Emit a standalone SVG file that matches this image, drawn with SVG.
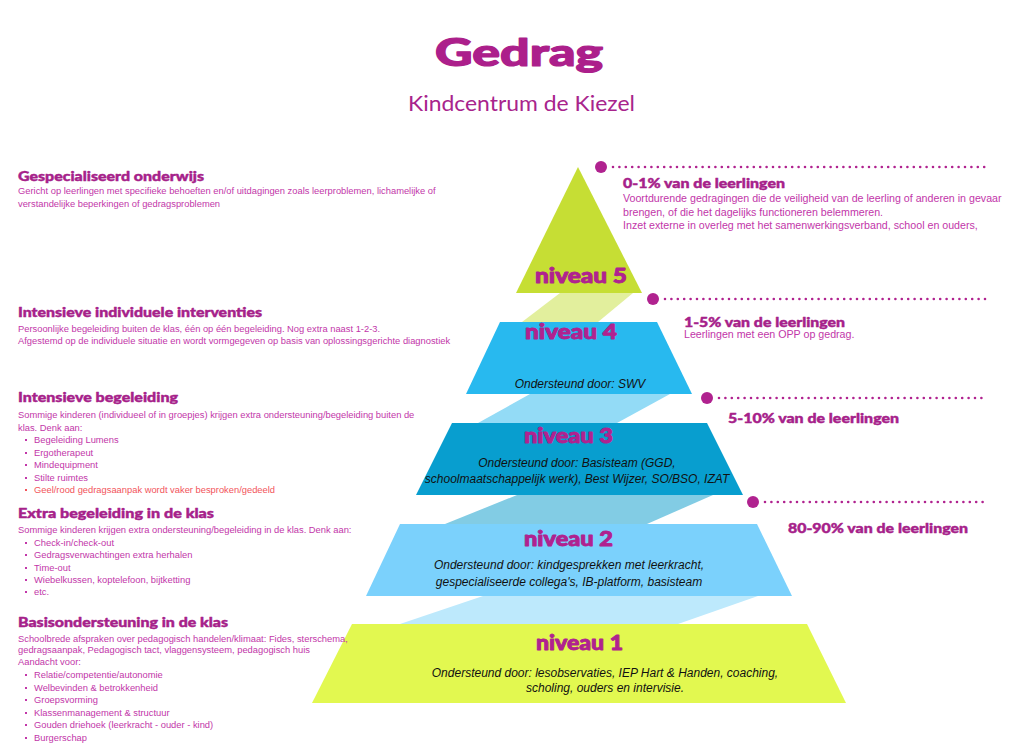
<svg xmlns="http://www.w3.org/2000/svg" width="1018" height="756" viewBox="0 0 1018 756">
<style>
.title{font-family:Lato,"Open Sans",sans-serif;font-weight:900;fill:#ac1f8b;stroke:#ac1f8b;stroke-width:1.2;stroke-linejoin:round}
.sub{font-family:Lato,"Open Sans",sans-serif;font-size:21px;fill:#a8248c}
.h{font-family:Lato,"Open Sans",sans-serif;font-weight:900;font-size:14px;fill:#a6218a;stroke:#a6218a;stroke-width:0.45;stroke-linejoin:round}
.b{font-family:"Liberation Sans",Arial,sans-serif;font-size:9.35px;fill:#c236a9}
.rb{font-family:"Liberation Sans",Arial,sans-serif;font-size:10.67px;fill:#c236a9}
.red{fill:#f2545b}
.niv{font-family:Lato,"Open Sans",sans-serif;font-weight:900;font-size:20px;fill:#b0228f;stroke:#b0228f;stroke-width:0.9;stroke-linejoin:round}
.it{font-family:"Liberation Sans",Arial,sans-serif;font-style:italic;font-size:12px;fill:#111;text-anchor:middle}
.dot{stroke:#b0228f;stroke-width:2.6;stroke-linecap:round;stroke-dasharray:0 6.4;fill:none}
.pin{fill:#b0228f}
.bul{fill:#c236a9}
</style>
<rect width="1018" height="756" fill="#ffffff"/>

<g id="header">
<text class="title" x="435" y="66" font-size="37" textLength="168" lengthAdjust="spacingAndGlyphs">Gedrag</text>
<text class="sub" x="408" y="111" textLength="227" lengthAdjust="spacingAndGlyphs">Kindcentrum de Kiezel</text>
</g>

<g id="connectors">
<polygon points="560,293 633,293 598,322 522,322" fill="#e2ef9d"/>
<polygon points="530,394 670,394 617,423 478,423" fill="#93dbf6"/>
<polygon points="517,495 713,495 647,524 445,524" fill="#82cce4"/>
<polygon points="483,596 758,596 678,624 400,624" fill="#bde9fc"/>
<circle class="pin" cx="601" cy="167" r="6"/>
<line class="dot" x1="613" y1="167" x2="985" y2="167"/>
<circle class="pin" cx="653" cy="299" r="6"/>
<line class="dot" x1="665" y1="299" x2="985" y2="299"/>
<circle class="pin" cx="707" cy="398" r="6"/>
<line class="dot" x1="719" y1="398" x2="985" y2="398"/>
<circle class="pin" cx="753" cy="502" r="6"/>
<line class="dot" x1="765" y1="502" x2="985" y2="502"/>
</g>

<g id="niveau5">
<polygon points="578,167 642,293 516,293" fill="#c6de34"/>
<text class="niv" x="535" y="283" textLength="92" lengthAdjust="spacingAndGlyphs">niveau 5</text>
</g>

<g id="niveau4">
<polygon points="500,322 657,322 692,394 466,394" fill="#28b9ef"/>
<text class="niv" x="525" y="339" textLength="92" lengthAdjust="spacingAndGlyphs">niveau 4</text>
<text class="it" x="580" y="388">Ondersteund door: SWV</text>
</g>

<g id="niveau3">
<polygon points="452,423 707,423 743,495 416,495" fill="#089ecf"/>
<text class="niv" x="524" y="443" textLength="89" lengthAdjust="spacingAndGlyphs">niveau 3</text>
<text class="it" x="577" y="467">Ondersteund door: Basisteam (GGD,</text>
<text class="it" x="577" y="483">schoolmaatschappelijk werk), Best Wijzer, SO/BSO, IZAT</text>
</g>

<g id="niveau2">
<polygon points="400,524 757,524 792,596 366,596" fill="#7bd1fc"/>
<text class="niv" x="524" y="546" textLength="89" lengthAdjust="spacingAndGlyphs">niveau 2</text>
<text class="it" x="569" y="569">Ondersteund door: kindgesprekken met leerkracht,</text>
<text class="it" x="569" y="586">gespecialiseerde collega's, IB-platform, basisteam</text>
</g>

<g id="niveau1">
<polygon points="352,624 807,624 846,703 312,703" fill="#e2f850"/>
<text class="niv" x="536" y="650" textLength="87" lengthAdjust="spacingAndGlyphs">niveau 1</text>
<text class="it" x="605" y="677">Ondersteund door: lesobservaties, IEP Hart &amp; Handen, coaching,</text>
<text class="it" x="605" y="692">scholing, ouders en intervisie.</text>
</g>

<g id="text-gespecialiseerd">
<text class="h" x="18" y="181" textLength="186" lengthAdjust="spacingAndGlyphs">Gespecialiseerd onderwijs</text>
<text class="b" x="18" y="194">Gericht op leerlingen met specifieke behoeften en/of uitdagingen zoals leerproblemen, lichamelijke of</text>
<text class="b" x="18" y="207">verstandelijke beperkingen of gedragsproblemen</text>
</g>

<g id="text-intensief-individueel">
<text class="h" x="18" y="317" textLength="244" lengthAdjust="spacingAndGlyphs">Intensieve individuele interventies</text>
<text class="b" x="18" y="332">Persoonlijke begeleiding buiten de klas, één op één begeleiding. Nog extra naast 1-2-3.</text>
<text class="b" x="18" y="344">Afgestemd op de individuele situatie en wordt vormgegeven op basis van oplossingsgerichte diagnostiek</text>
</g>

<g id="text-intensief">
<text class="h" x="18" y="402" textLength="160" lengthAdjust="spacingAndGlyphs">Intensieve begeleiding</text>
<text class="b" x="18" y="418">Sommige kinderen (individueel of in groepjes) krijgen extra ondersteuning/begeleiding buiten de</text>
<text class="b" x="18" y="431">klas. Denk aan:</text>
<rect class="bul" x="25" y="439" width="2" height="2"/>
<text class="b" x="34" y="443">Begeleiding Lumens</text>
<rect class="bul" x="25" y="452" width="2" height="2"/>
<text class="b" x="34" y="456">Ergotherapeut</text>
<rect class="bul" x="25" y="464" width="2" height="2"/>
<text class="b" x="34" y="468">Mindequipment</text>
<rect class="bul" x="25" y="477" width="2" height="2"/>
<text class="b" x="34" y="481">Stilte ruimtes</text>
<rect class="red" x="25" y="489" width="2" height="2"/>
<text class="b red" x="34" y="493">Geel/rood gedragsaanpak wordt vaker besproken/gedeeld</text>
</g>

<g id="text-extra">
<text class="h" x="18" y="518" textLength="196" lengthAdjust="spacingAndGlyphs">Extra begeleiding in de klas</text>
<text class="b" x="18" y="533">Sommige kinderen krijgen extra ondersteuning/begeleiding in de klas. Denk aan:</text>
<rect class="bul" x="25" y="542" width="2" height="2"/>
<text class="b" x="34" y="546">Check-in/check-out</text>
<rect class="bul" x="25" y="554" width="2" height="2"/>
<text class="b" x="34" y="558">Gedragsverwachtingen extra herhalen</text>
<rect class="bul" x="25" y="567" width="2" height="2"/>
<text class="b" x="34" y="571">Time-out</text>
<rect class="bul" x="25" y="579" width="2" height="2"/>
<text class="b" x="34" y="583">Wiebelkussen, koptelefoon, bijtketting</text>
<rect class="bul" x="25" y="591" width="2" height="2"/>
<text class="b" x="34" y="595">etc.</text>
</g>

<g id="text-basis">
<text class="h" x="18" y="627" textLength="210" lengthAdjust="spacingAndGlyphs">Basisondersteuning in de klas</text>
<text class="b" x="18" y="642">Schoolbrede afspraken over pedagogisch handelen/klimaat: Fides,  sterschema,</text>
<text class="b" x="18" y="653">gedragsaanpak, Pedagogisch tact, vlaggensysteem, pedagogisch huis</text>
<text class="b" x="18" y="665">Aandacht voor:</text>
<rect class="bul" x="25" y="674" width="2" height="2"/>
<text class="b" x="34" y="678">Relatie/competentie/autonomie</text>
<rect class="bul" x="25" y="687" width="2" height="2"/>
<text class="b" x="34" y="691">Welbevinden &amp; betrokkenheid</text>
<rect class="bul" x="25" y="699" width="2" height="2"/>
<text class="b" x="34" y="703">Groepsvorming</text>
<rect class="bul" x="25" y="712" width="2" height="2"/>
<text class="b" x="34" y="716">Klassenmanagement &amp; structuur</text>
<rect class="bul" x="25" y="724" width="2" height="2"/>
<text class="b" x="34" y="728">Gouden driehoek (leerkracht - ouder - kind)</text>
<rect class="bul" x="25" y="737" width="2" height="2"/>
<text class="b" x="34" y="741">Burgerschap</text>
</g>

<g id="text-0-1">
<text class="h" x="623" y="188" textLength="162" lengthAdjust="spacingAndGlyphs">0-1% van de leerlingen</text>
<text class="rb" x="623" y="202">Voortdurende gedragingen die de veiligheid van de leerling of anderen in gevaar</text>
<text class="rb" x="623" y="216">brengen, of die het dagelijks functioneren belemmeren.</text>
<text class="rb" x="623" y="229">Inzet externe in overleg met het samenwerkingsverband, school en ouders,</text>
</g>

<g id="text-1-5">
<text class="h" x="684" y="327" textLength="161" lengthAdjust="spacingAndGlyphs">1-5% van de leerlingen</text>
<text class="rb" x="684" y="338">Leerlingen met een OPP op gedrag.</text>
</g>

<g id="text-5-10">
<text class="h" x="728" y="423" textLength="171" lengthAdjust="spacingAndGlyphs">5-10% van de leerlingen</text>
</g>

<g id="text-80-90">
<text class="h" x="788" y="533" textLength="180" lengthAdjust="spacingAndGlyphs">80-90% van de leerlingen</text>
</g>
</svg>
